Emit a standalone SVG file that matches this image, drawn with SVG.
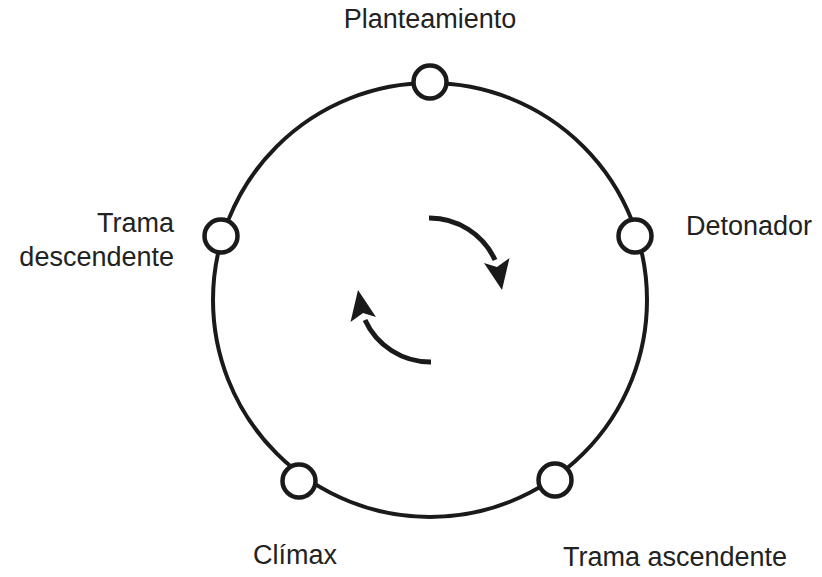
<svg xmlns="http://www.w3.org/2000/svg" width="822" height="577" viewBox="0 0 822 577">
<defs>
<style>
.ring{fill:none;stroke:#1a1a1a;stroke-width:4}
.node{fill:#fff;stroke:#1a1a1a;stroke-width:4.5}
.lbl{font-family:"Liberation Sans",Arial,sans-serif;font-size:27px;fill:#222}
.shaft{fill:none;stroke:#1a1a1a;stroke-width:5}
.head{fill:#1a1a1a}
</style>
<g id="arrowShape">
<path class="shaft" d="M429,218 A72,72 0 0 1 495,260"/>
<polygon class="head" points="502,290 484,263 497,267 509.5,258"/>
</g>
</defs>
<rect width="822" height="577" fill="#fff"/>
<g id="connectors">
<circle class="ring" cx="430" cy="300" r="217"/>
<use href="#arrowShape"/>
<use href="#arrowShape" transform="rotate(180 430 290)"/>
</g>
<g id="n-planteamiento">
<circle class="node" cx="430" cy="82" r="16.5"/>
<text class="lbl" x="430" y="28" text-anchor="middle">Planteamiento</text>
</g>
<g id="n-detonador">
<circle class="node" cx="635" cy="236" r="16.5"/>
<text class="lbl" x="686" y="235">Detonador</text>
</g>
<g id="n-trama-ascendente">
<circle class="node" cx="555" cy="480" r="16.5"/>
<text class="lbl" x="563" y="566">Trama ascendente</text>
</g>
<g id="n-climax">
<circle class="node" cx="299" cy="481" r="16.5"/>
<text class="lbl" x="295" y="564" text-anchor="middle">Clímax</text>
</g>
<g id="n-trama-descendente">
<circle class="node" cx="221" cy="236" r="16.5"/>
<text class="lbl" x="174" y="232" text-anchor="end">Trama</text>
<text class="lbl" x="174" y="266" text-anchor="end">descendente</text>
</g>
</svg>
